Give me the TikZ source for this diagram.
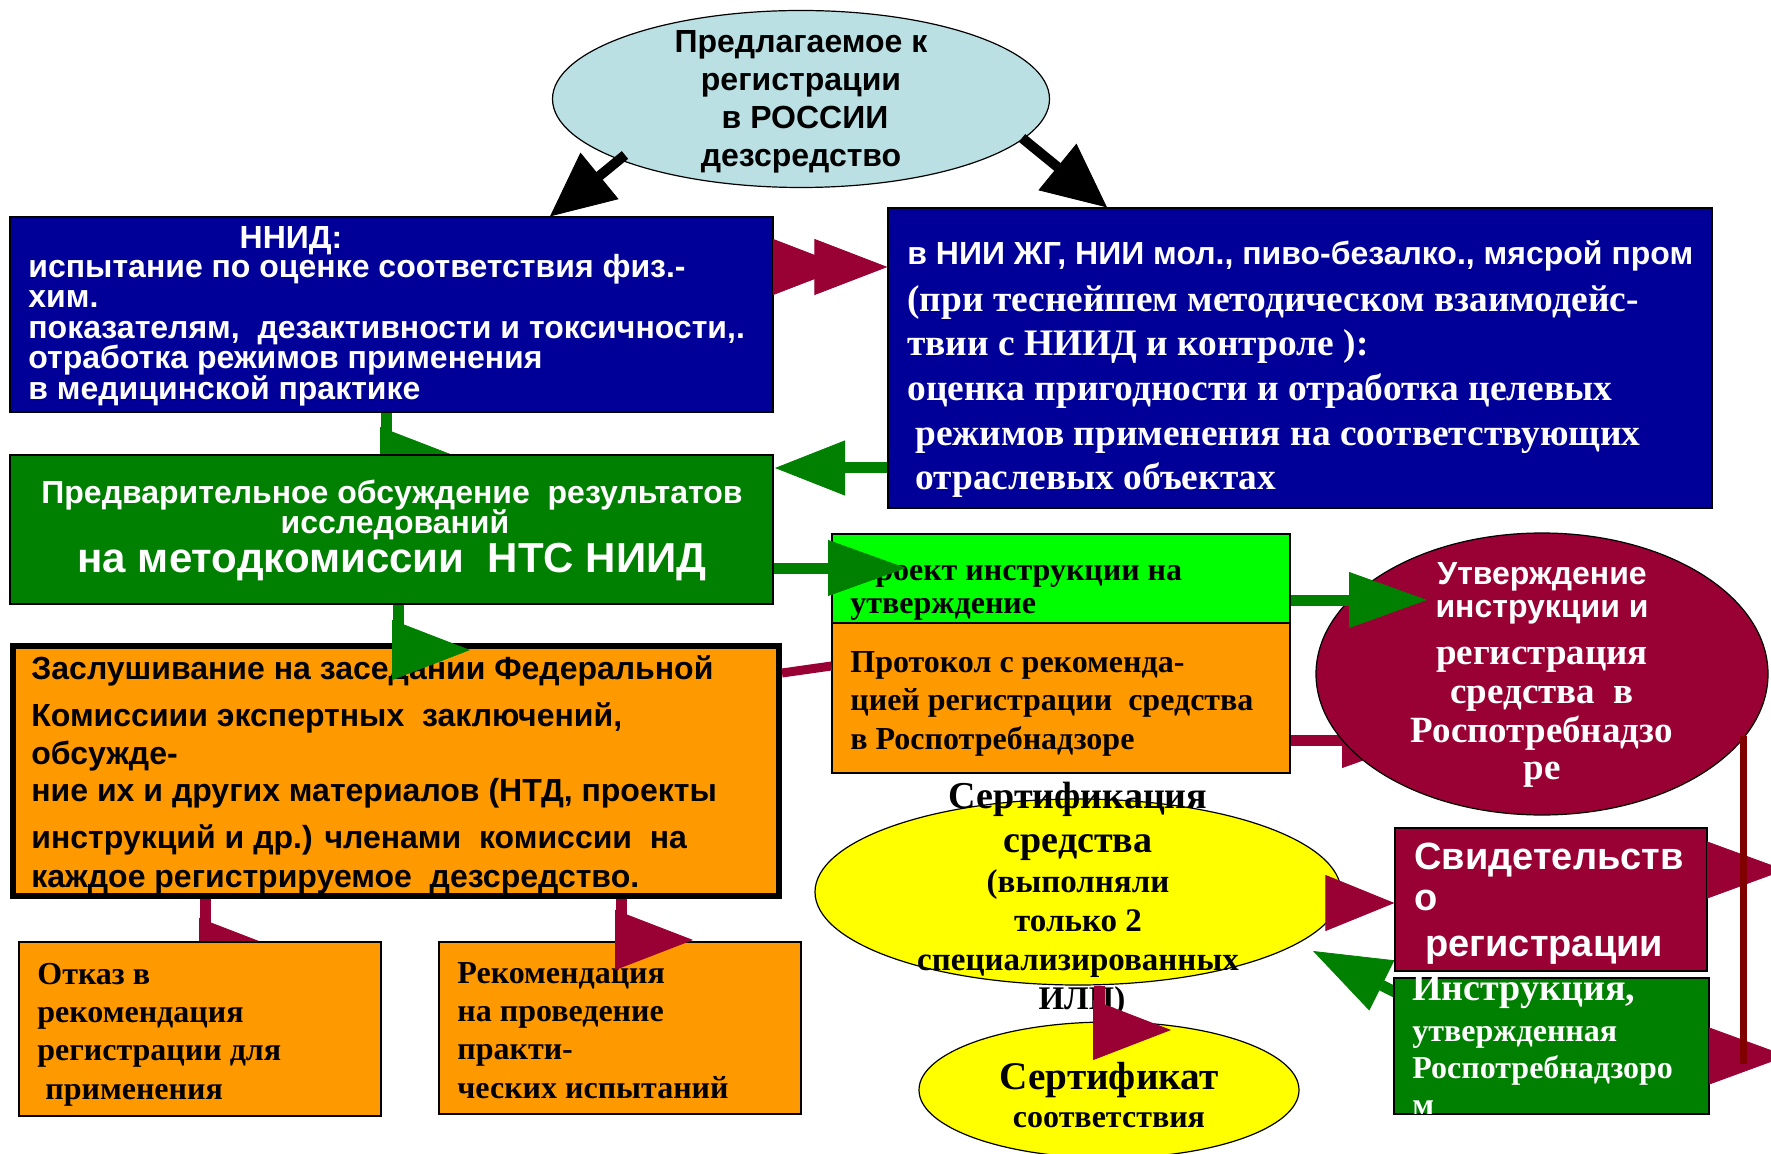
\documentclass[tikz,border=0pt]{standalone}
\usepackage{fontspec}
\setmainfont{Liberation Serif}
\newfontfamily\sansf{Liberation Sans}
\usetikzlibrary{arrows.meta,fit,shapes.geometric}
\definecolor{dblue}{HTML}{000099}
\definecolor{dgreen}{HTML}{008000}
\definecolor{maroon}{HTML}{990033}
\definecolor{orng}{HTML}{FF9900}
\definecolor{lgreen}{HTML}{00FF00}
\definecolor{ylw}{HTML}{FFFF00}
\definecolor{lcyan}{HTML}{BBE0E3}
\definecolor{dred}{HTML}{800000}
\tikzset{
  box/.style={draw=black, line width=0.6pt, inner sep=0pt, fit={#1}},
  ov/.style={ellipse, draw=black, line width=0.6pt, inner sep=0pt},
  tl/.style={inner sep=0pt, anchor=base west},
  tm/.style={inner sep=0pt, anchor=base},
  sans/.style={font={\sansf\bfseries\fontsize{#1}{#1}\selectfont}},
  serif/.style={font={\bfseries\fontsize{#1}{#1}\selectfont}},
  shaft/.style={line width=5.5pt, color=#1},
  hd/.style 2 args={-{Triangle[length=#1,width=#2,line width=0.4pt]}},
  elbowhead/.style={color=#1, line width=0.5pt, hd={39pt}{30pt}},
  farrow/.style={line width=5.5pt, color=#1, hd={39pt}{28pt}},
  blackarrow/.style={line width=5pt, color=black, hd={32pt}{30pt}}
}
\begin{document}
\begin{tikzpicture}[x=0.5pt,y=-0.5pt]
\useasboundingbox (0,0) rectangle (1771,1154);

% top ellipse
\node[ov, fill=lcyan, minimum width=248.5pt, minimum height=88.5pt] (prop) at (801,99) {};
\node[tm, sans=16pt] (p1) at (801,53) {Предлагаемое к};
\node[tm, sans=16pt] (p2) at (801,91) {регистрации};
\node[tm, sans=16pt] (p3) at (805,129) {в РОССИИ};
\node[tm, sans=16pt] (p4) at (801,167) {дезсредство};

% NNID box
\node[box={(10,217) (773,412)}, fill=dblue] (nnid) {};
\node[tm, sans=16pt, text=white] (n0) at (291,249) {ННИД:};
\node[tl, sans=16pt, text=white] (n1) at (28,278) {испытание по оценке соответствия физ.-};
\node[tl, sans=16pt, text=white] (n2) at (28,308) {хим.};
\node[tl, sans=16pt, text=white] (n3) at (28,339) {показателям,~ дезактивности и токсичности,.};
\node[tl, sans=16pt, text=white] (n4) at (28,369) {отработка режимов применения};
\node[tl, sans=16pt, text=white] (n5) at (28,400) {в медицинской практике};

% right blue box
\node[box={(888,208) (1712,508)}, fill=dblue] (rbox) {};
\node[tl, sans=16pt, text=white] (r1) at (907,265) {в НИИ ЖГ, НИИ мол., пиво-безалко., мясрой пром};
\node[tl, serif=18.7pt, text=white] (r2) at (907,312) {(при теснейшем методическом взаимодейс-};
\node[tl, serif=18.7pt, text=white] (r3) at (907,356) {твии с НИИД и контроле ):};
\node[tl, serif=18.7pt, text=white] (r4) at (907,401) {оценка пригодности и отработка целевых};
\node[tl, serif=18.7pt, text=white] (r5) at (915,446) {режимов применения на соответствующих};
\node[tl, serif=18.7pt, text=white] (r6) at (915,490) {отраслевых объектах};

% black arrows
\draw[blackarrow] (625,155) -- (nnid.north -| 550,0);
\draw[blackarrow] (1022,138) -- (rbox.north -| 1107,0);

% maroon double arrow
\draw[elbowhead=maroon, hd={36.5pt}{28pt}] (nnid.east |- 0,267) -- (846,267);
\draw[elbowhead=maroon, hd={36.5pt}{28pt}] (815,267) -- (rbox.west |- 0,267);

% green arrows to green box
\draw[farrow=dgreen, hd={35pt}{27.5pt}] (rbox.west |- 0,468) -- (775,468);
\draw[shaft=dgreen] (nnid.south -| 386,0) -- (386,457);
\draw[elbowhead=dgreen] (380,457) -- (458,457);

% green box
\node[box={(10,455) (773,604)}, fill=dgreen] (gbox) {};
\node[tm, sans=16pt, text=white] (g1) at (392,503) {Предварительное обсуждение~ результатов};
\node[tm, sans=16pt, text=white] (g2) at (395,533) {исследований};
\node[tm, sans=21pt, text=white] (g3) at (392,572) {на методкомиссии~ НТС НИИД};

% big orange box
\node[box={(13,646) (779,896)}, fill=orng, line width=3pt] (obox) {};
\node[tl, sans=16pt] (o1) at (31,679) {Заслушивание на заседании Федеральной};
\node[tl, sans=16pt] (o2) at (31,726) {Комиссиии экспертных~ заключений,};
\node[tl, sans=16pt] (o3) at (31,764) {обсужде-};
\node[tl, sans=16pt] (o4) at (31,801) {ние их и других материалов (НТД, проекты};
\node[tl, sans=16pt] (o5) at (31,848) {инструкций и др.) членами~ комиссии~ на};
\node[tl, sans=16pt] (o6) at (31,887) {каждое регистрируемое~ дезсредство.};

\draw[shaft=dgreen] (gbox.south -| 398,0) -- (398,650);
\draw[elbowhead=dgreen] (392,650) -- (470,650);

% light green & protocol boxes
\node[box={(832,534) (1290,623)}, fill=lgreen] (lgbox) {};
\node[tl, serif=16pt] (l1) at (850,581) {Проект инструкции на};
\node[tl, serif=16pt] (l2) at (850,613) {утверждение};
\node[box={(832,623) (1290,773)}, fill=orng] (pbox) {};
\node[tl, serif=16pt] (q1) at (850,672) {Протокол с рекоменда-};
\node[tl, serif=16pt] (q2) at (850,710) {цией регистрации~ средства};
\node[tl, serif=16pt] (q3) at (850,749) {в Роспотребнадзоре};

\draw[farrow=dgreen] (gbox.east |- 0,568) -- (906,568);
\draw[line width=4.5pt, color=maroon] (obox.east |- 0,673) -- (pbox.west |- 0,666);
\draw[farrow=maroon] (pbox.east |- 0,740) -- (1420,740);

% maroon ellipse
\node[ov, fill=maroon, minimum width=226pt, minimum height=141pt] (mell) at (1542,674) {};
\node[tm, sans=16pt, text=white] (m1) at (1542,584) {Утверждение};
\node[tm, sans=16pt, text=white] (m2) at (1542,617) {инструкции и};
\node[tm, serif=18.5pt, text=white] (m3) at (1542,664) {регистрация};
\node[tm, serif=18.5pt, text=white] (m4) at (1542,703) {средства~ в};
\node[tm, serif=18.5pt, text=white] (m5) at (1542,742) {Роспотребнадзо};
\node[tm, serif=18.5pt, text=white] (m6) at (1542,779) {ре};
\draw[farrow=dgreen] (lgbox.east |- 0,600) -- (1427,600);

% refusal / recommendation boxes
\draw[shaft=maroon] (obox.south -| 205,0) -- (205,948);
\draw[elbowhead=maroon] (199,948) -- (277,948);
\node[box={(19,942) (381,1116)}, fill=orng] (rej) {};
\node[tl, serif=16pt] (j1) at (37,984) {Отказ в};
\node[tl, serif=16pt] (j2) at (37,1022) {рекомендация};
\node[tl, serif=16pt] (j3) at (37,1060) {регистрации для};
\node[tl, serif=16pt] (j4) at (45,1099) {применения};
\node[box={(439,942) (801,1114)}, fill=orng] (rec) {};
\node[tl, serif=16pt] (k1) at (457,983) {Рекомендация};
\node[tl, serif=16pt] (k2) at (457,1021) {на проведение};
\node[tl, serif=16pt] (k3) at (457,1059) {практи-};
\node[tl, serif=16pt] (k4) at (457,1098) {ческих испытаний};
\draw[shaft=maroon] (obox.south -| 621,0) -- (621,940);
\draw[elbowhead=maroon] (615,940) -- (693,940);

% yellow ellipses
\node[ov, fill=ylw, minimum width=263pt, minimum height=93pt] (yell) at (1078,892) {};
\node[tm, serif=19pt] (y1) at (1078,808) {Сертификация};
\node[tm, serif=19pt] (y2) at (1078,852) {средства};
\node[tm, serif=16.5pt] (y3) at (1078,892) {(выполняли};
\node[tm, serif=16.5pt] (y4) at (1078,931) {только 2};
\node[tm, serif=16.5pt] (y5) at (1078,970) {специализированных};
\node[tm, serif=16.5pt] (y6) at (1082,1009) {ИЛЦ)};
\node[ov, fill=ylw, minimum width=190pt, minimum height=68pt] (sell) at (1109,1090) {};
\node[tm, serif=19.6pt] (s1) at (1109,1089) {Сертификат};
\node[tm, serif=16pt] (s2) at (1109,1127) {соответствия};
\draw[shaft=maroon] (yell.south -| 1099,0) -- (1099,1030);
\draw[elbowhead=maroon] (1093,1030) -- (1171,1030);

% right column
\draw[farrow=dgreen, hd={38.5pt}{28pt}] (1405,997) -- (1313,951);
\node[box={(1395,828) (1707,971)}, fill=maroon] (svid) {};
\node[tl, sans=19pt, text=white] (v1) at (1414,869) {Свидетельств};
\node[tl, sans=19pt, text=white] (v2) at (1414,910) {о};
\node[tl, sans=19pt, text=white] (v3) at (1425,956) {регистрации};
\draw[elbowhead=maroon, hd={34.5pt}{28pt}] (1327,903) -- (svid.west |- 0,903);
\node[box={(1394,978) (1709,1114)}, fill=dgreen] (instr) {};
\node[tl, serif=19pt, text=white] (i1) at (1412,1000) {Инструкция,};
\node[tl, serif=16pt, text=white] (i2) at (1412,1041) {утвержденная};
\node[tl, serif=16pt, text=white] (i3) at (1412,1078) {Роспотребнадзоро};
\begin{scope}
  \clip (1394,978) rectangle (1709,1113);
  \node[tl, serif=16pt, text=white] (i4) at (1412,1115) {м};
\end{scope}
\draw[elbowhead=maroon, hd={39pt}{28.5pt}] (svid.east |- 0,870) -- (1785,870);
\draw[elbowhead=maroon, hd={39pt}{28.5pt}] (instr.east |- 0,1056) -- (1787,1056);
\draw[line width=3.5pt, color=dred] (1743,736) -- (1743,1064);
\end{tikzpicture}
\end{document}
